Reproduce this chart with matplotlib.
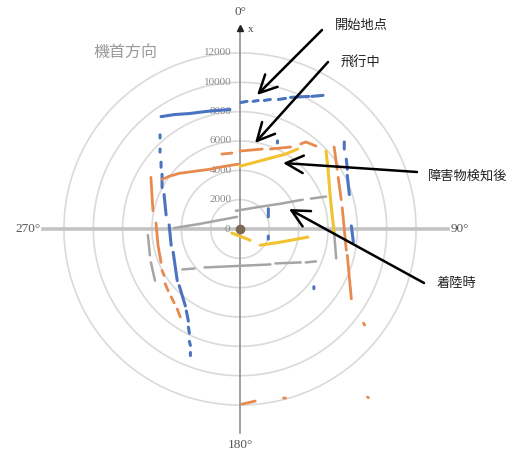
import numpy as np
import matplotlib
matplotlib.use("Agg")
import matplotlib.pyplot as plt

N = None
# LiDAR scan points (mm): lateral (x) and forward (y); None breaks a segment
start_x = [-5380, -4485, -3450, -2415, -1725, -690, N,
           70, 480, N, 900, 1240, N, 1660, 2070, N, 2620, 3100, N, 3450, 4690, N, 4900, 5660, N,
           -5450, -5450, N, -5450, -5450, N, -5382, -5382, N, -5313, -5313, N, -5175, -5037, N,
           -4830, -4692, N, -4554, -4278, N, -4140, -3726, N, -3657, -3519, N, -3519, -3450, N,
           -3450, -3381, N, -3381, -3381, N,
           7107, 7107, N, 7245, 7314, N, 7314, 7452, N, 7590, 7728, N,
           1932, 1932, N, 1932, 1932, N, 1932, 1932, N, 2553, 2553, N, 5037, 5037]
start_y = [7660, 7800, 7870, 8000, 8070, 8140, N,
           8625, 8700, N, 8700, 8760, N, 8760, 8830, N, 8830, 8900, N, 8970, 9040, N, 9040, 9110, N,
           6417, 6210, N, 5450, 5244, N, 4554, 4209, N, 3726, 2829, N, 2346, 966, N,
           276, -1104, N, -1587, -3519, N, -3864, -5244, N, -5589, -6279, N, -6693, -7107, N,
           -7659, -7935, N, -8418, -8625, N,
           5934, 5451, N, 4761, 4071, N, 3657, 2346, N, 207, -897, N,
           1380, 1173, N, 1035, 828, N, -483, -690, N, 6003, 5865, N, -3933, -4071]

flight_x = [-1242, -552, N, 0, 1518, N, 2070, 3450, N,
            4140, 4485, 4830, 5175, N,
            -5313, -4830, -4140, -3105, -2070, -1035, -138, N,
            -6072, -6003, -5934, N,
            -5727, -5589, -5382, N, -5313, -5175, N, -5106, -4899, N, -4692, -4485, N, -4278, -4071, N,
            6417, 6624, N, 6693, 6900, N, 6969, 7245, N, 7314, 7590, N,
            8418, 8500, N, 8694, 8750, N, 138, 1035, N, 2967, 3105]
flight_y = [5106, 5175, N, 5313, 5451, N, 5451, 5589, N,
            5796, 5934, 5796, 5658, N,
            3381, 3588, 3795, 3933, 4071, 4278, 4416, N,
            3519, 2346, 1242, N,
            414, -1104, -2277, N, -2829, -3174, N, -3726, -4209, N, -4623, -5037, N, -5451, -5996, N,
            5589, 4071, N, 3519, 2001, N, 1449, -1449, N, -1794, -4761, N,
            -6417, -6550, N, -11454, -11500, N, -11937, -11730, N, -11523, -11523]

obstacle_x = [0, 1035, 2070, 3105, 3933, N,
              5865, 6003, 6141, 6279, 6417, N,
              -552, 690, N, 1380, 2760, 4623]
obstacle_y = [4278, 4554, 4830, 5106, 5451, N,
              5313, 4071, 2346, 966, -207, N,
              -276, -759, N, -1104, -897, -552]

landing_x = [-276, 1380, 2760, 4278, N, 4830, 5865, N,
             -4485, -2760, -207, N,
             -3933, -3105, N, -2415, 2070, N, 2415, 4140, N, 4485, 5175, N,
             -6279, -6141, N, -6072, -5796, N,
             6417, 6555]
landing_y = [1242, 1518, 1725, 2001, N, 2070, 2208, N,
             69, 345, 828, N,
             -2760, -2691, N, -2622, -2415, N, -2346, -2277, N, -2277, -2208, N,
             -414, -1794, N, -2277, -3519, N,
             -207, -2001]

origin_x = [0]
origin_y = [0]

ring_radii = [2000, 4000, 6000, 8000, 10000, 12000]
ring_labels = ["2000", "4000", "6000", "8000", "10000", "12000"]
angle_labels = ["0°", "90°", "180°", "270°"]

def arr(v):
    return np.array([np.nan if a is None else a for a in v], dtype=float)

W, H = 516, 451
fig = plt.figure(figsize=(W / 100, H / 100), dpi=100)
ax = fig.add_axes([0, 0, 1, 1])
s = 1000 / 14.67  # mm per pixel
cx, cy = 240, 229
ax.set_xlim(-cx * s, (W - cx) * s)
ax.set_ylim(-(H - cy) * s, cy * s)
ax.axis("off")

cjk = ["Noto Sans CJK JP", "DejaVu Sans"]
serif = ["Liberation Serif", "DejaVu Serif"]

# rings
t = np.linspace(0, 2 * np.pi, 400)
for r in ring_radii:
    ax.plot(r * np.cos(t), r * np.sin(t), color="#dadada", lw=1.2, zorder=1)

# cross axes
ax.plot([-13450, 14200], [0, 0], color="#c4c4c4", lw=2.6, zorder=2)
ax.plot([0, 0], [-13900, 13700], color="#8f8f8f", lw=1.2, zorder=2)
ax.plot([0], [13700], marker="^", color="#222222", ms=4, zorder=3)
ax.text(550, 13600, "x", fontsize=8, color="#444444", family=serif, va="center")

# radial labels
for r, lab in zip(ring_radii, ring_labels):
    ax.text(-550, r, lab, ha="right", va="center", fontsize=8,
            color="#8a8a8a", family=serif)
ax.text(-700, 0, "0", ha="right", va="center", fontsize=8, color="#8a8a8a", family=serif)

# angle labels
ax.text(50, 14800, angle_labels[0], ha="center", va="center", fontsize=9.5, color="#555555", family=serif)
ax.text(15000, 0, angle_labels[1], ha="center", va="center", fontsize=9.5, color="#555555", family=serif)
ax.text(50, -14750, angle_labels[2], ha="center", va="center", fontsize=9.5, color="#555555", family=serif)
ax.text(-14450, 0, angle_labels[3], ha="center", va="center", fontsize=9.5, color="#555555", family=serif)

ax.text(-7840, 12066, "機首方向", ha="center", va="center", fontsize=11.5,
        color="#9a9a9a", family=cjk)

# data
ax.plot(arr(landing_x), arr(landing_y), color="#a5a5a5", lw=1.8, zorder=4, solid_capstyle="round")
ax.plot(arr(start_x), arr(start_y), color="#4a74c0", lw=2.2, zorder=5, solid_capstyle="round")
ax.plot(arr(flight_x), arr(flight_y), color="#e8894e", lw=2.0, zorder=5, solid_capstyle="round")
ax.plot(arr(obstacle_x), arr(obstacle_y), color="#f2c330", lw=2.2, zorder=6, solid_capstyle="round")
ax.plot(origin_x, origin_y, marker="o", color="#7a6a55", ms=6, zorder=7)

# annotations
ann = [
    ("開始地点", (1159, 9135), (5590, 13566), (6476, 13907)),
    ("飛行中", (1023, 5863), (5999, 11384), (6885, 11384)),
    ("障害物検知後", (2931, 4499), (12066, 3886), (12816, 3613)),
    ("着陸時", (3340, 1363), (12543, -3681), (13430, -3681)),
]
for txt, tip, tail, tpos in ann:
    ax.annotate("", xy=tip, xytext=tail,
                arrowprops=dict(arrowstyle="->,head_length=0.9,head_width=0.45",
                                color="black", lw=1.8, mutation_scale=14,
                                shrinkA=0, shrinkB=0), zorder=8)
    ax.text(tpos[0], tpos[1], txt, ha="left", va="center", fontsize=9.5,
            color="#222222", family=cjk)

fig.savefig("out.png", dpi=100)
